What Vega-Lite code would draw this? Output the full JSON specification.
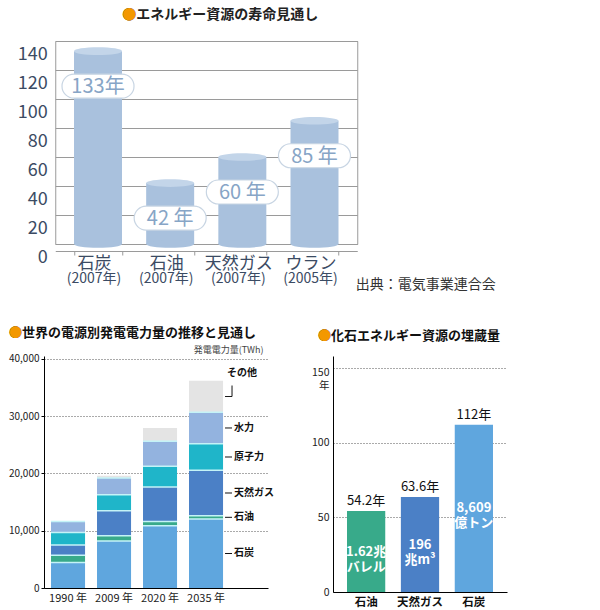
{
  "$schema": "https://vega.github.io/schema/vega-lite/v6.json",
  "padding": {"left": 8, "top": 7, "right": 5, "bottom": 5},
  "background": "white",
  "config": {"font": "Noto Sans CJK JP", "view": {"stroke": null}},
  "center": true,
  "spacing": 35,
  "vconcat": [
    {
      "width": 302,
      "height": 203,
      "view": {"stroke": "#9a9a9a"},
      "title": {
        "text": "●エネルギー資源の寿命見通し",
        "subtitle": "●",
        "anchor": "start",
        "frame": "group",
        "dx": 67,
        "offset": 19,
        "color": "#222222",
        "fontSize": 14,
        "fontWeight": "bold",
        "subtitleFontSize": 14,
        "subtitleFontWeight": "bold",
        "subtitleColor": "#f39800",
        "subtitlePadding": -14
      },
      "data": {"values": [
        {"resource": "石炭", "period": "(2007年)", "years": 133, "label": "133年"},
        {"resource": "石油", "period": "(2007年)", "years": 42, "label": "42 年"},
        {"resource": "天然ガス", "period": "(2007年)", "years": 60, "label": "60 年"},
        {"resource": "ウラン", "period": "(2005年)", "years": 85, "label": "85 年"}
      ]},
      "layer": [
        {
          "mark": {"type": "bar", "color": "#a9c1dd"},
          "encoding": {
            "x": {"field": "resource", "type": "nominal", "sort": null,
              "scale": {"paddingInner": 0.335, "paddingOuter": 0.26},
              "axis": {"title": "出典：電気事業連合会", "titleFontSize": 14, "titleFontWeight": "normal", "titleColor": "#333333",
                "titleX": 300, "titleY": 33, "titleAlign": "left", "titleBaseline": "middle",
                "offset": 7, "labelFontSize": 17, "labelColor": "#3b4b63", "labelPadding": 0, "labelOffset": -4, "labelAngle": 0,
                "tickBand": "extent", "tickSize": 4, "tickColor": "#9a9a9a", "domainColor": "#9a9a9a"}},
            "y": {"field": "years", "type": "quantitative",
              "scale": {"domain": [0, 140], "nice": false},
              "axis": {"values": [0, 20, 40, 60, 80, 100, 120, 140], "tickCount": 10, "title": null, "labelFontSize": 18, "labelColor": "#3b4b63",
                "labelOverlap": false, "labelOffset": 13, "labelPadding": 8, "ticks": false, "domain": false, "grid": true, "gridColor": "#9a9a9a"}}
          }
        },
        {
          "mark": {"type": "point", "shape": "M-1,0A1,0.16,0,1,1,1,0A1,0.16,0,1,1,-1,0Z", "size": 2304, "filled": true, "color": "#a9c1dd", "opacity": 1},
          "encoding": {
            "x": {"field": "resource", "type": "nominal", "sort": null},
            "y": {"datum": 0}
          }
        },
        {
          "mark": {"type": "point", "shape": "M-1,0A1,0.16,0,1,1,1,0A1,0.16,0,1,1,-1,0Z", "size": 2304, "filled": true, "color": "#c3d5e9", "opacity": 1},
          "encoding": {
            "x": {"field": "resource", "type": "nominal", "sort": null},
            "y": {"field": "years", "type": "quantitative"}
          }
        },
        {
          "mark": {"type": "point", "shape": "M-0.667,-0.333L0.667,-0.333A0.333,0.333,0,0,1,0.667,0.333L-0.667,0.333A0.333,0.333,0,0,1,-0.667,-0.333Z",
            "size": 5184, "fill": "#ffffff", "stroke": "#c8d5e3", "strokeWidth": 1.2, "opacity": 1, "fillOpacity": 1, "yOffset": 35},
          "encoding": {
            "x": {"field": "resource", "type": "nominal", "sort": null},
            "y": {"field": "years", "type": "quantitative"}
          }
        },
        {
          "mark": {"type": "text", "fontSize": 20, "color": "#87a5c6", "baseline": "middle", "dy": 36},
          "encoding": {
            "x": {"field": "resource", "type": "nominal", "sort": null},
            "y": {"field": "years", "type": "quantitative"},
            "text": {"field": "label"}
          }
        },
        {
          "mark": {"type": "text", "fontSize": 14, "color": "#3b4b63", "baseline": "top", "dy": 27.5, "dx": -4},
          "encoding": {
            "x": {"field": "resource", "type": "nominal", "sort": null},
            "y": {"datum": 0},
            "text": {"field": "period"}
          }
        }
      ]
    },
    {
      "spacing": 36,
      "hconcat": [
        {
          "width": 224,
          "height": 232,
          "title": {
            "text": "●世界の電源別発電電力量の推移と見通し",
            "subtitle": "●",
            "anchor": "start",
            "frame": "group",
            "dx": -35,
            "offset": 5,
            "color": "#111111",
            "fontSize": 13,
            "fontWeight": "bold",
            "subtitleFontSize": 13,
            "subtitleFontWeight": "bold",
            "subtitleColor": "#f39800",
            "subtitlePadding": -13
          },
          "data": {"values": [
            {"year": "1990 年", "source": "石炭", "value": 4470},
            {"year": "1990 年", "source": "石油", "value": 1230},
            {"year": "1990 年", "source": "天然ガス", "value": 1810},
            {"year": "1990 年", "source": "原子力", "value": 2200},
            {"year": "1990 年", "source": "水力", "value": 1920},
            {"year": "2009 年", "source": "石炭", "value": 8210},
            {"year": "2009 年", "source": "石油", "value": 930},
            {"year": "2009 年", "source": "天然ガス", "value": 4360},
            {"year": "2009 年", "source": "原子力", "value": 2800},
            {"year": "2009 年", "source": "水力", "value": 2900},
            {"year": "2009 年", "source": "その他", "value": 400},
            {"year": "2020 年", "source": "石炭", "value": 10880},
            {"year": "2020 年", "source": "石油", "value": 750},
            {"year": "2020 年", "source": "天然ガス", "value": 6010},
            {"year": "2020 年", "source": "原子力", "value": 3600},
            {"year": "2020 年", "source": "水力", "value": 4360},
            {"year": "2020 年", "source": "その他", "value": 2350},
            {"year": "2035 年", "source": "石炭", "value": 12050},
            {"year": "2035 年", "source": "石油", "value": 580},
            {"year": "2035 年", "source": "天然ガス", "value": 7910},
            {"year": "2035 年", "source": "原子力", "value": 4660},
            {"year": "2035 年", "source": "水力", "value": 5470},
            {"year": "2035 年", "source": "その他", "value": 5530}
          ]},
          "transform": [
            {"stack": "value", "groupby": ["year"], "as": ["v0", "v1"]},
            {"calculate": "(datum.v0 + datum.v1) / 2", "as": "mid"}
          ],
          "layer": [
            {
              "mark": {"type": "bar"},
              "encoding": {
                "x": {"field": "year", "type": "nominal", "sort": null,
                  "scale": {"paddingInner": 0.26, "paddingOuter": 0.565, "align": 0.135},
                  "axis": {"title": null, "labelAngle": 0, "labelFontSize": 11, "labelColor": "#222222", "labelPadding": 4,
                    "ticks": false, "domainColor": "#000000"}},
                "y": {"field": "v0", "type": "quantitative",
                  "scale": {"domain": [0, 40500], "nice": false},
                  "axis": {"values": [0, 10000, 20000, 30000, 40000], "tickCount": 10, "format": ",d", "labelFontSize": 10, "labelColor": "#222222",
                    "labelOverlap": false, "domainColor": "#000000", "tickColor": "#000000", "tickSize": 3, "grid": true, "gridDash": [1, 2], "gridColor": "#555555",
                    "title": "発電電力量(TWh)", "titleAngle": 0, "titleAlign": "right", "titleBaseline": "bottom", "titleX": 219, "titleY": -2,
                    "titleFontSize": 9, "titleFontWeight": "normal", "titleColor": "#444444"}},
                "y2": {"field": "v1"},
                "color": {"field": "source", "type": "nominal",
                  "scale": {"domain": ["石炭", "石油", "天然ガス", "原子力", "水力", "その他"],
                    "range": ["#5fa6de", "#38aa8a", "#4b80c6", "#1fb5c9", "#93b3df", "#e4e4e4"]},
                  "legend": null}
              }
            },
            {
              "transform": [{"filter": "datum.source != 'その他'"}],
              "mark": {"type": "tick", "orient": "horizontal", "size": 34, "thickness": 1.5, "color": "#c4f3f7", "opacity": 1},
              "encoding": {
                "x": {"field": "year", "type": "nominal", "sort": null},
                "y": {"field": "v1", "type": "quantitative"}
              }
            },
            {
              "transform": [{"filter": "datum.year == '2035 年'"}],
              "mark": {"type": "tick", "orient": "horizontal", "size": 7, "thickness": 1, "color": "#111111", "opacity": 1, "xOffset": 22.5},
              "encoding": {
                "x": {"field": "year", "type": "nominal", "sort": null},
                "y": {"field": "mid", "type": "quantitative"}
              }
            },
            {
              "transform": [{"filter": "datum.year == '2035 年' && datum.source == 'その他'"}],
              "mark": {"type": "tick", "orient": "vertical", "size": 11, "thickness": 1, "color": "#111111", "opacity": 1, "xOffset": 26, "yOffset": -5.5},
              "encoding": {
                "x": {"field": "year", "type": "nominal", "sort": null},
                "y": {"field": "mid", "type": "quantitative"}
              }
            },
            {
              "transform": [{"filter": "datum.year == '2035 年' && datum.source != 'その他'"}],
              "mark": {"type": "text", "align": "left", "baseline": "middle", "dx": 11, "fontSize": 10, "fontWeight": "bold", "color": "#111111"},
              "encoding": {
                "x": {"field": "year", "type": "nominal", "sort": null, "bandPosition": 1},
                "y": {"field": "mid", "type": "quantitative"},
                "text": {"field": "source"}
              }
            },
            {
              "transform": [{"filter": "datum.year == '2035 年' && datum.source == 'その他'"}],
              "mark": {"type": "text", "align": "left", "baseline": "middle", "dx": 4, "dy": -23, "fontSize": 10, "fontWeight": "bold", "color": "#111111"},
              "encoding": {
                "x": {"field": "year", "type": "nominal", "sort": null, "bandPosition": 1},
                "y": {"field": "mid", "type": "quantitative"},
                "text": {"field": "source"}
              }
            }
          ]
        },
        {
          "width": 174,
          "height": 236,
          "title": {
            "text": "●化石エネルギー資源の埋蔵量",
            "subtitle": "●",
            "anchor": "start",
            "frame": "group",
            "dx": -15,
            "offset": 13,
            "color": "#111111",
            "fontSize": 13,
            "fontWeight": "bold",
            "subtitleFontSize": 13,
            "subtitleFontWeight": "bold",
            "subtitleColor": "#f39800",
            "subtitlePadding": -13
          },
          "data": {"values": [
            {"resource": "石油", "years": 54.2, "top": "54.2年", "reserve": "1.62兆\nバレル"},
            {"resource": "天然ガス", "years": 63.6, "top": "63.6年", "reserve": "196\n兆m³"},
            {"resource": "石炭", "years": 112, "top": "112年", "reserve": "8,609\n億トン"}
          ]},
          "transform": [{"calculate": "datum.years / 2", "as": "mid"}],
          "layer": [
            {
              "mark": {"type": "bar"},
              "encoding": {
                "x": {"field": "resource", "type": "nominal", "sort": null,
                  "scale": {"paddingInner": 0.29, "paddingOuter": 0.26},
                  "axis": {"title": null, "labelAngle": 0, "labelFontSize": 11.5, "labelFontWeight": "bold", "labelColor": "#111111",
                    "labelPadding": 4, "ticks": false, "domainColor": "#000000"}},
                "y": {"field": "years", "type": "quantitative",
                  "scale": {"domain": [0, 158], "nice": false},
                  "axis": {"values": [0, 50, 100, 150], "tickCount": 10, "title": null, "labelFontSize": 10.5, "labelColor": "#222222",
                    "labelOverlap": false,
                    "labelExpr": "datum.value == 150 ? ['150', '年'] : datum.label",
                    "labelOffset": {"condition": {"test": "datum.value == 150", "value": 5}, "value": 0},
                    "labelPadding": 4, "ticks": false, "domainColor": "#000000",
                    "grid": true, "gridDash": [1, 2], "gridColor": "#555555"}},
                "color": {"field": "resource", "type": "nominal",
                  "scale": {"domain": ["石油", "天然ガス", "石炭"], "range": ["#36b08c", "#4a7cc4", "#5ba5dc"]},
                  "legend": null}
              }
            },
            {
              "mark": {"type": "text", "baseline": "bottom", "dy": -3, "fontSize": 13, "color": "#111111"},
              "encoding": {
                "x": {"field": "resource", "type": "nominal", "sort": null},
                "y": {"field": "years", "type": "quantitative"},
                "text": {"field": "top"}
              }
            },
            {
              "mark": {"type": "text", "baseline": "middle", "lineBreak": "\n", "lineHeight": 15, "fontSize": 13, "fontWeight": "bold", "color": "#ffffff"},
              "encoding": {
                "x": {"field": "resource", "type": "nominal", "sort": null},
                "y": {"field": "mid", "type": "quantitative"},
                "text": {"field": "reserve"}
              }
            }
          ]
        }
      ]
    }
  ]
}
